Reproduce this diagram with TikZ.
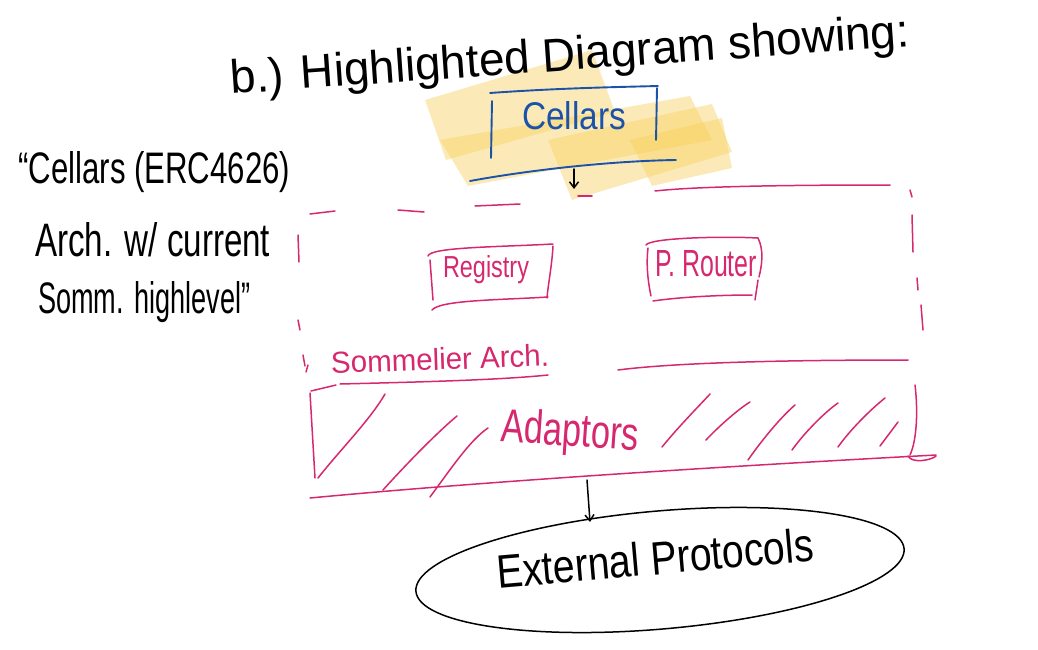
\documentclass[tikz,border=0pt]{standalone}
\usepackage{fontspec}
\setmainfont{Liberation Sans}
\usepackage{graphicx}
\usetikzlibrary{shapes.geometric,arrows.meta}
\definecolor{pinkpen}{RGB}{214,40,110}
\definecolor{bluepen}{RGB}{28,82,168}
\definecolor{hl}{RGB}{246,206,86}
\newcommand{\fitw}[2]{\resizebox{#1pt}{!}{#2}}
\newcommand{\fitwh}[3]{\resizebox{#1pt}{#2pt}{#3}}
\begin{document}
\begin{tikzpicture}[x=1pt,y=-1pt,
  ink/.style={line width=1.5pt,line cap=round,line join=round},
  pk/.style={ink,draw=pinkpen},
  bl/.style={ink,draw=bluepen,line width=1.9pt},
  bk/.style={ink,draw=black},
  hlstroke/.style={fill=hl,fill opacity=0.42,draw=none},
  lbl/.style={inner sep=0pt,text=black},
  plbl/.style={inner sep=0pt,text=pinkpen},
  blbl/.style={inner sep=0pt,text=bluepen},
  arr/.style={bk,-{Straight Barb[length=6pt,width=9pt]}}]
\useasboundingbox (0,0) rectangle (1038,650);
% highlighter strokes
\fill[hlstroke] (425,100) -- (592,50) -- (615,112) -- (446,160) -- cycle;
\fill[hlstroke] (440,140) -- (690,96) -- (712,140) -- (468,186) -- cycle;
\fill[hlstroke] (548,140) -- (712,104) -- (732,152) -- (572,200) -- cycle;
\fill[hlstroke] (630,140) -- (722,118) -- (732,168) -- (652,186) -- cycle;
% title
\node[lbl,rotate=4] (title) at (570,58) {\fitwh{680}{34}{b.) Highlighted Diagram showing:}};
% left notes
\node[lbl,anchor=west] (note1) at (18,172) {\fitwh{272}{32}{“Cellars (ERC4626)}};
\node[lbl,anchor=west] (note2) at (35,240) {\fitwh{235}{34}{Arch. w/ current}};
\node[lbl,anchor=west] (note3) at (38,302) {\fitwh{212}{32}{Somm. highlevel”}};
% Cellars box
\node[blbl] (cellars) at (574,116) {\fitwh{104}{28}{Cellars}};
\draw[bl] (490,93) .. controls (560,88) and (620,87) .. (658,86);
\draw[bl] (492,101) -- (491,158);
\draw[bl] (657,88) -- (656,140);
\draw[bl] (470,181) .. controls (530,170) and (610,161) .. (676,160);
\coordinate (cellout) at (574,169);
\coordinate (archin) at (574,189);
\draw[arr] (cellout) -- (archin);
% Sommelier arch dashed outline
\draw[pk] (310,214) -- (335,211);
\draw[pk] (398,210) -- (424,212);
\draw[pk] (475,206) -- (520,204);
\draw[pk] (578,196) -- (592,196);
\draw[pk] (655,191) .. controls (700,186) and (800,185) .. (890,185);
\draw[pk] (910,190) -- (912,197);
\draw[pk] (912,215) -- (913,252);
\draw[pk] (917,278) -- (918,290);
\draw[pk] (921,305) -- (923,330);
\draw[pk] (298,235) -- (299,262);
\draw[pk] (298,320) -- (300,330);
\draw[pk] (303,355) -- (305,366);
% Registry box
\node[plbl] (registry) at (486,270) {\fitwh{86}{22}{Registry}};
\draw[pk] (428,256) .. controls (430,247) and (500,247) .. (553,244);
\draw[pk] (430,260) -- (433,300);
\draw[pk] (432,310) .. controls (440,300) and (500,300) .. (548,297);
\draw[pk] (553,246) .. controls (552,265) and (548,285) .. (547,298);
% P. Router box
\node[plbl] (router) at (706,264) {\fitwh{102}{26}{P. Router}};
\draw[pk] (646,245) .. controls (650,238) and (720,236) .. (758,238);
\draw[pk] (758,238) .. controls (764,250) and (762,265) .. (759,277);
\draw[pk] (648,248) .. controls (646,265) and (648,282) .. (651,296);
\draw[pk] (653,301) .. controls (680,297) and (720,295) .. (752,295);
\draw[pk] (758,280) -- (755,300);
% Sommelier Arch label and divider
\node[plbl,rotate=2] (somm) at (440,359) {\fitwh{218}{22}{Sommelier Arch.}};
\draw[pk] (618,370) .. controls (680,362) and (800,360) .. (908,360);
\draw[pk] (340,384) .. controls (420,382) and (500,380) .. (548,375);
\draw[pk] (311,391) -- (336,385);
\draw[pk] (308,365) -- (306,372);
% Adaptors region
\draw[pk] (310,393) -- (315,478);
\draw[pk] (915,385) .. controls (918,410) and (917,440) .. (910,455);
\draw[pk] (908,456) .. controls (912,464) and (932,460) .. (936,456);
\draw[pk] (310,498) .. controls (500,480) and (750,465) .. (936,455);
\node[plbl,rotate=-4] (adaptors) at (570,434) {\fitwh{138}{34}{Adaptors}};
% hatching
\draw[pk] (318,478) .. controls (340,450) and (370,420) .. (385,394);
\draw[pk] (383,490) .. controls (410,460) and (440,430) .. (457,416);
\draw[pk] (430,497) .. controls (450,470) and (470,440) .. (488,428);
\draw[pk] (662,447) .. controls (680,425) and (700,405) .. (710,394);
\draw[pk] (706,440) .. controls (720,425) and (740,408) .. (750,402);
\draw[pk] (748,460) .. controls (762,440) and (780,418) .. (795,405);
\draw[pk] (792,450) .. controls (805,432) and (825,412) .. (838,403);
\draw[pk] (838,447) .. controls (850,430) and (870,410) .. (885,398);
\draw[pk] (880,446) -- (898,422);
% External protocols
\node[draw=black,line width=1.5pt,ellipse,minimum width=490pt,minimum height=118pt,rotate=5] (ext) at (660,570) {};
\node[lbl,rotate=5] (extlbl) at (655,558) {\fitwh{318}{34}{External Protocols}};
\coordinate (adaptout) at (587,480);
\coordinate (extin) at (590,522);
\draw[arr] (adaptout) -- (extin);
\end{tikzpicture}
\end{document}
